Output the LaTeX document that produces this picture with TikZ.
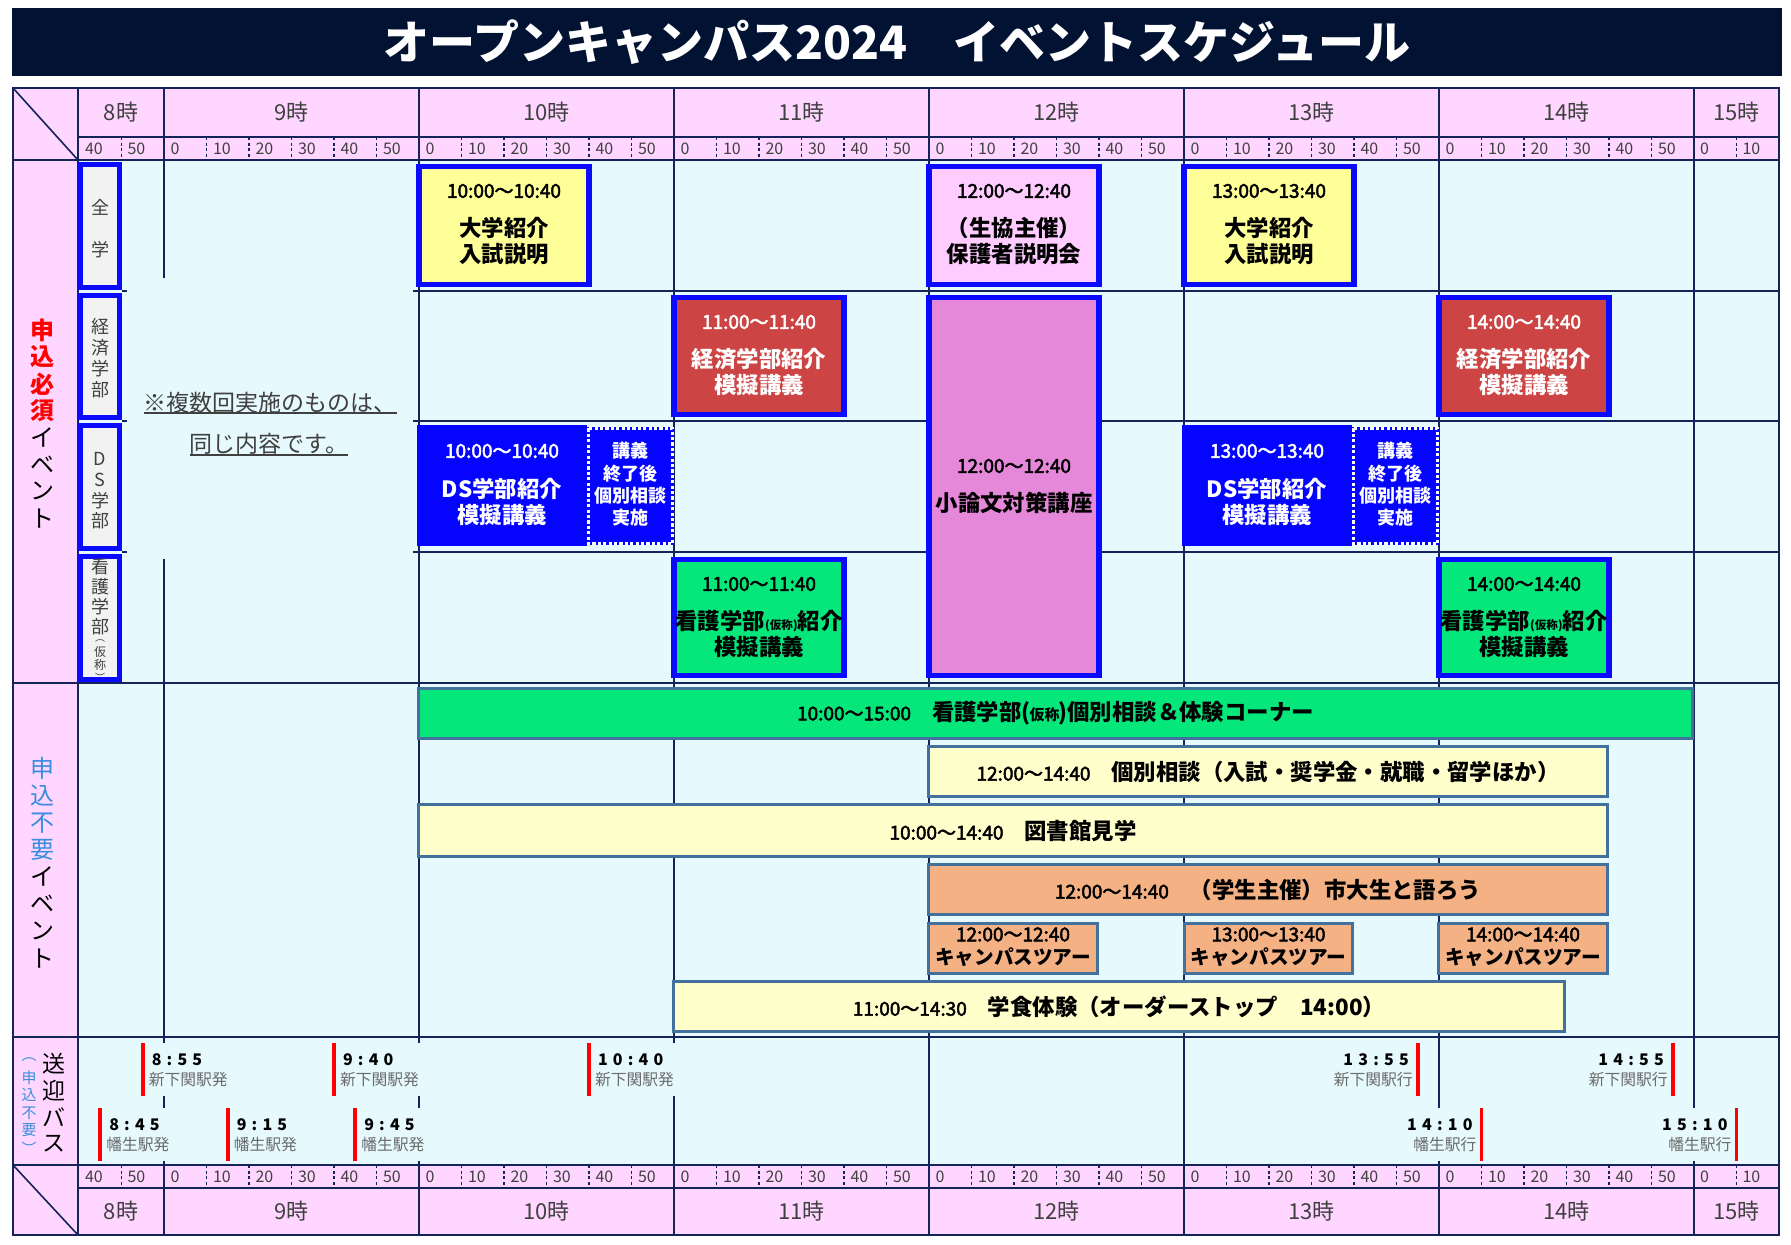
\documentclass[tikz,border=0pt]{standalone}
\usepackage{fontspec}
\setmainfont{Noto Sans CJK JP}
\newfontfamily\tmf[FakeBold=2.5]{Noto Sans CJK JP}
\definecolor{navy}{HTML}{021233}
\definecolor{hdrpink}{HTML}{FFD6FF}
\definecolor{bgcyan}{HTML}{E6F9FC}
\definecolor{gridc}{HTML}{14235A}
\definecolor{evblue}{HTML}{0A0AFF}
\definecolor{dsblue}{HTML}{0505FF}
\definecolor{yel}{HTML}{FFFF99}
\definecolor{pnk}{HTML}{FFCCFF}
\definecolor{orchid}{HTML}{E688DA}
\definecolor{redbox}{HTML}{CC4444}
\definecolor{grn}{HTML}{05E67B}
\definecolor{ltyel}{HTML}{FFFFCC}
\definecolor{orng}{HTML}{F4B183}
\definecolor{steel}{HTML}{41719C}
\definecolor{txtgray}{HTML}{404040}
\definecolor{stgray}{HTML}{6B6B6B}
\definecolor{lblblue}{HTML}{3A8DDE}
\definecolor{subgray}{HTML}{F2F2F2}
\newcommand\fsz[1]{\fontsize{#1}{#1}\selectfont}
\newcommand\fszl[2]{\fontsize{#1}{#2}\selectfont}
\newcommand\bkern{\kern2.6pt}
\tikzset{
 txt/.style={inner sep=0pt, outer sep=0pt},
 gridln/.style={draw=gridc, line width=0.8pt},
 tickln/.style={draw=gridc, line width=0.6pt, dash pattern=on 1.6pt off 1.2pt},
 evbox/.style={draw=evblue, line width=2.6pt},
 barbox/.style={draw=steel, line width=1.6pt},
 hourlab/.style={txt, text=txtgray, font={\fsz{11pt}}},
 minlab/.style={txt, anchor=west, text=txtgray, font={\fsz{8pt}}},
 boxtime/.style={txt, font={\tmf\fsz{9.5pt}}},
 boxtitle/.style={txt, align=center, font={\bfseries\fszl{11.2pt}{13pt}}},
 subch/.style={txt, text=txtgray, font={\fsz{9pt}}},
 redbar/.style={draw=red, line width=1.8pt},
 bustime/.style={txt, font={\bfseries\fsz{8pt}}},
 busst/.style={txt, text=stgray, font={\fsz{7.9pt}}},
 bartext/.style={txt},
}
\newcommand\vchars[6]{\foreach \c [count=\i from 0] in {#6} {\node[txt,#5] (#1\i) at (#2,{#3+\i*#4}) {\c};}}
\newcommand\busL[5]{%
  \fill[bgcyan] (#2,#3) rectangle ({#2+88},{#3+53});
  \draw[redbar] (#2,#3) -- (#2,{#3+53});
  \node[bustime, anchor=west] (#1t) at ({#2+9},{#3+16.5}) {#4};
  \node[busst, anchor=west] (#1s) at ({#2+6},{#3+36.5}) {#5};
}
\newcommand\busR[5]{%
  \fill[bgcyan] ({#2-88},#3) rectangle (#2,{#3+53});
  \draw[redbar] (#2,#3) -- (#2,{#3+53});
  \node[bustime, anchor=east] (#1t) at ({#2-9},{#3+16.5}) {#4};
  \node[busst, anchor=east] (#1s) at ({#2-5},{#3+36.5}) {#5};
}
\begin{document}
\begin{tikzpicture}[x=0.5pt,y=-0.5pt]
\useasboundingbox (0,0) rectangle (1791,1245);
\fill[white] (0,0) rectangle (1791,1245);
% title
\fill[navy] (12,8) rectangle (1782,76);
\node[txt, text=white, font={\bfseries\fsz{23pt}}] (title) at (897,42) {オープンキャンパス2024　イベントスケジュール};
% backgrounds
\fill[bgcyan] (78,160) rectangle (1779,1165);
\fill[hdrpink] (13,88) rectangle (1779,160);
\fill[hdrpink] (13,160) rectangle (78,1165);
\fill[hdrpink] (13,1165) rectangle (1779,1235);
% grid
\draw[gridln] (78,137) -- (1779,137);
\draw[gridln] (13,160) -- (1779,160);
\foreach \y in {291,421,552} {\draw[gridln] (122,\y) -- (127,\y); \draw[gridln] (413,\y) -- (1779,\y);}
\draw[gridln] (13,683) -- (1779,683);
\draw[gridln] (13,1037) -- (1779,1037);
\draw[gridln] (13,1165) -- (1779,1165);
\draw[gridln] (78,1188) -- (1779,1188);
\draw[gridln] (78,88) -- (78,1235);
\draw[gridln] (164,88) -- (164,278);
\draw[gridln] (164,559) -- (164,1235);
\foreach \x in {419,674,929,1184,1439,1694} {\draw[gridln] (\x,88) -- (\x,1235);}
\foreach \yy in {137,1165} {
  \draw[tickln] (121.5,\yy) -- (121.5,{\yy+23});
  \draw[tickln] (1736.5,\yy) -- (1736.5,{\yy+23});
  \foreach \h in {0,...,5} {\foreach \k in {1,...,5} {\draw[tickln] ({164+\h*255+\k*42.5},\yy) -- ({164+\h*255+\k*42.5},{\yy+23});}}
}
\draw[gridln] (13,88) -- (78,160);
\draw[gridln] (13,1165) -- (78,1235);
\draw[gridln] (13,88) rectangle (1779,1235);
% hour labels
\foreach \nm/\x/\lab in {a/121/8時,b/291.5/9時,c/546.5/10時,d/801.5/11時,e/1056.5/12時,f/1311.5/13時,g/1566.5/14時,h/1736.5/15時} {
  \node[hourlab] (ht\nm) at (\x,112.5) {\lab};
  \node[hourlab] (hb\nm) at (\x,1211.5) {\lab};
}
% minute labels
\foreach \yy/\pf in {148.5/mt,1176.5/mb} {
  \node[minlab] (\pf a) at (85,\yy) {40};
  \node[minlab] (\pf b) at (127.5,\yy) {50};
  \node[minlab] (\pf c) at (1700,\yy) {0};
  \node[minlab] (\pf d) at (1742.5,\yy) {10};
  \foreach \h in {0,...,5} {\foreach \k/\lab in {0/0,1/10,2/20,3/30,4/40,5/50} {
    \node[minlab] (\pf\h\k) at ({164+\h*255+\k*42.5+6.5},\yy) {\lab};}}
}
% left labels
\vchars{va}{42}{330}{26.9}{text=red,font={\bfseries\fsz{12pt}}}{申,込,必,須}
\vchars{vb}{42}{437.6}{26.9}{text=black,font={\fsz{12pt}}}{イ,ベ,ン,ト}
\vchars{vc}{42}{768.5}{27.1}{text=lblblue,font={\fsz{12pt}}}{申,込,不,要}
\vchars{vd}{42}{876.9}{27.1}{text=black,font={\fsz{12pt}}}{イ,ベ,ン,ト}
\vchars{so}{54}{1064}{26.7}{text=black,font={\fsz{11.5pt}}}{送,迎,バ,ス}
\vchars{sm}{29}{1060}{17.6}{text=lblblue,font={\fsz{7.5pt}}}{︵,申,込,不,要,︶}
% sub-label boxes
\draw[evbox, fill=subgray] (80.5,164.5) rectangle (119.5,287.5);
\draw[evbox, fill=subgray] (80.5,295.5) rectangle (119.5,417.5);
\draw[evbox, fill=subgray] (80.5,425.5) rectangle (119.5,548.5);
\draw[evbox, fill=subgray] (80.5,556.5) rectangle (119.5,679.5);
\node[subch] (zen) at (100,207) {全};
\node[subch] (gaku) at (100,250) {学};
\vchars{ke}{100}{327}{21}{subch}{経,済,学,部}
\vchars{ds}{100}{459}{20.7}{subch}{D,S,学,部}
\vchars{kg}{100}{567}{20}{subch}{看,護,学,部}
\node[subch, font={\fsz{5pt}}] (kgp1) at (100,641) {︵};
\node[subch, font={\fsz{6pt}}] (kgk) at (100,652) {仮};
\node[subch, font={\fsz{6pt}}] (kgs) at (100,665) {称};
\node[subch, font={\fsz{5pt}}] (kgp2) at (100,677) {︶};
% note
\node[txt, text=txtgray, font={\fsz{11.5pt}}] (note1) at (270,403) {※複数回実施のものは、};
\node[txt, text=txtgray, font={\fsz{11.5pt}}] (note2) at (269,444) {同じ内容です。};
\draw[txtgray, line width=0.6pt] ([yshift=-5pt]note1.west) -- ([yshift=-5pt]note1.east);
\draw[txtgray, line width=0.6pt] ([yshift=-5.5pt]note2.west) -- ([yshift=-5.5pt]note2.east);
% row 1 boxes
\draw[evbox, fill=yel] (419,166.5) rectangle (589,284.5);
\node[boxtime] (a1t) at (504,191) {10:00～10:40};
\node[boxtitle] (a1n) at (504,241) {大学紹介\\入試説明};
\draw[evbox, fill=pnk] (929,166.5) rectangle (1099,284.5);
\node[boxtime] (a2t) at (1014,191) {12:00～12:40};
\node[boxtitle] (a2n) at (1014,241) {（生協主催）\\保護者説明会};
\draw[evbox, fill=yel] (1184,166.5) rectangle (1354,284.5);
\node[boxtime] (a3t) at (1269,191) {13:00～13:40};
\node[boxtitle] (a3n) at (1269,241) {大学紹介\\入試説明};
% row 2 boxes
\draw[evbox, fill=redbox] (674,297.5) rectangle (844,414.5);
\node[boxtime, text=white] (b1t) at (759,322) {11:00～11:40};
\node[boxtitle, text=white] (b1n) at (759,372) {経済学部紹介\\模擬講義};
\draw[evbox, fill=redbox] (1439,297.5) rectangle (1609,414.5);
\node[boxtime, text=white] (b2t) at (1524,322) {14:00～14:40};
\node[boxtitle, text=white] (b2n) at (1524,372) {経済学部紹介\\模擬講義};
% essay
\draw[evbox, fill=orchid] (929,297.5) rectangle (1099,675.5);
\node[boxtime] (ct) at (1014,466) {12:00～12:40};
\node[boxtitle] (cn) at (1014,503) {小論文対策講座};
% DS
\fill[dsblue] (417,425) rectangle (587,546);
\node[boxtime, text=white] (d1t) at (502,451) {10:00～10:40};
\node[boxtitle, text=white] (d1n) at (502,501.5) {DS学部紹介\\模擬講義};
\fill[dsblue] (587,427) rectangle (674,545);
\draw[white, line width=1.4pt, dash pattern=on 1.6pt off 1.1pt] (588.5,428.5) rectangle (672.5,543.5);
\node[txt, align=center, text=white, font={\bfseries\fszl{9pt}{11.2pt}}] (d1x) at (630.5,484.5) {講義\\終了後\\個別相談\\実施};
\fill[dsblue] (1182,425) rectangle (1352,546);
\node[boxtime, text=white] (d2t) at (1267,451) {13:00～13:40};
\node[boxtitle, text=white] (d2n) at (1267,501.5) {DS学部紹介\\模擬講義};
\fill[dsblue] (1352,427) rectangle (1439,545);
\draw[white, line width=1.4pt, dash pattern=on 1.6pt off 1.1pt] (1353.5,428.5) rectangle (1437.5,543.5);
\node[txt, align=center, text=white, font={\bfseries\fszl{9pt}{11.2pt}}] (d2x) at (1395.5,484.5) {講義\\終了後\\個別相談\\実施};
% row 4
\draw[evbox, fill=grn] (674,559.5) rectangle (844,675.5);
\node[boxtime] (e1t) at (759,584) {11:00～11:40};
\node[boxtitle] (e1n) at (759,633.5) {看護学部{\fsz{5.8pt}(仮称)}紹介\\模擬講義};
\draw[evbox, fill=grn] (1439,559.5) rectangle (1609,675.5);
\node[boxtime] (e2t) at (1524,584) {14:00～14:40};
\node[boxtitle] (e2n) at (1524,633.5) {看護学部{\fsz{5.8pt}(仮称)}紹介\\模擬講義};
% lower bars
\draw[barbox, fill=grn] (418.5,688.5) rectangle (1692.5,738.5);
\node[bartext] (gt) at (1055.5,713) {{\tmf\fsz{9.5pt}10:00～15:00}\hspace{10.5pt}{\bfseries\fsz{11.2pt}看護学部(\kern-0.5pt{\fsz{7.5pt}仮称}\kern-0.5pt)個別相談＆体験コーナー}};
\draw[barbox, fill=ltyel] (928.5,746.5) rectangle (1607.5,796.5);
\node[bartext] (ht) at (1268,772) {{\tmf\fsz{9.5pt}12:00～14:40}\hspace{10.5pt}{\bfseries\fsz{11.2pt}個別相談（入試・奨学金・就職・留学ほか）}};
\draw[barbox, fill=ltyel] (418.5,804.5) rectangle (1607.5,856.5);
\node[bartext] (it) at (1013,831) {{\tmf\fsz{9.5pt}10:00～14:40}\hspace{10.5pt}{\bfseries\fsz{11.2pt}図書館見学}};
\draw[barbox, fill=orng] (928.5,864.5) rectangle (1607.5,914.5);
\node[bartext] (jt) at (1268,890) {{\tmf\fsz{9.5pt}12:00～14:40}\hspace{10.5pt}{\bfseries\fsz{11.2pt}（学生主催）市大生と語ろう}};
\foreach \nm/\xa/\xb/\tm in {k1/928.5/1097.5/12:00～12:40,k2/1184.5/1352.5/13:00～13:40,k3/1438.5/1607.5/14:00～14:40} {
  \draw[barbox, fill=orng] (\xa,923.5) rectangle (\xb,973.5);
  \node[boxtime] (\nm t) at ({(\xa+\xb)/2},934.5) {\tm};
  \node[txt, font={\bfseries\fsz{9.8pt}}] (\nm n) at ({(\xa+\xb)/2},957.5) {キャンパスツアー};
}
\draw[barbox, fill=ltyel] (673.5,981.5) rectangle (1564.5,1031.5);
\node[bartext] (lt) at (1119,1007) {{\tmf\fsz{9.5pt}11:00～14:30}\hspace{10.5pt}{\bfseries\fsz{11.2pt}学食体験（オーダーストップ　14:00）}};
% bus
\busL{bu1}{142.75}{1043}{8\bkern:\bkern5\bkern5}{新下関駅発}
\busL{bu2}{334}{1043}{9\bkern:\bkern4\bkern0}{新下関駅発}
\busL{bu3}{589}{1043}{1\bkern0\bkern:\bkern4\bkern0}{新下関駅発}
\busR{bu4}{1417.75}{1043}{1\bkern3\bkern:\bkern5\bkern5}{新下関駅行}
\busR{bu5}{1672.75}{1043}{1\bkern4\bkern:\bkern5\bkern5}{新下関駅行}
\busL{bu6}{100.25}{1108}{8\bkern:\bkern4\bkern5}{幡生駅発}
\busL{bu7}{227.75}{1108}{9\bkern:\bkern1\bkern5}{幡生駅発}
\busL{bu8}{355.25}{1108}{9\bkern:\bkern4\bkern5}{幡生駅発}
\busR{bu9}{1481.5}{1108}{1\bkern4\bkern:\bkern1\bkern0}{幡生駅行}
\busR{bux}{1736.5}{1108}{1\bkern5\bkern:\bkern1\bkern0}{幡生駅行}
\end{tikzpicture}
\end{document}
